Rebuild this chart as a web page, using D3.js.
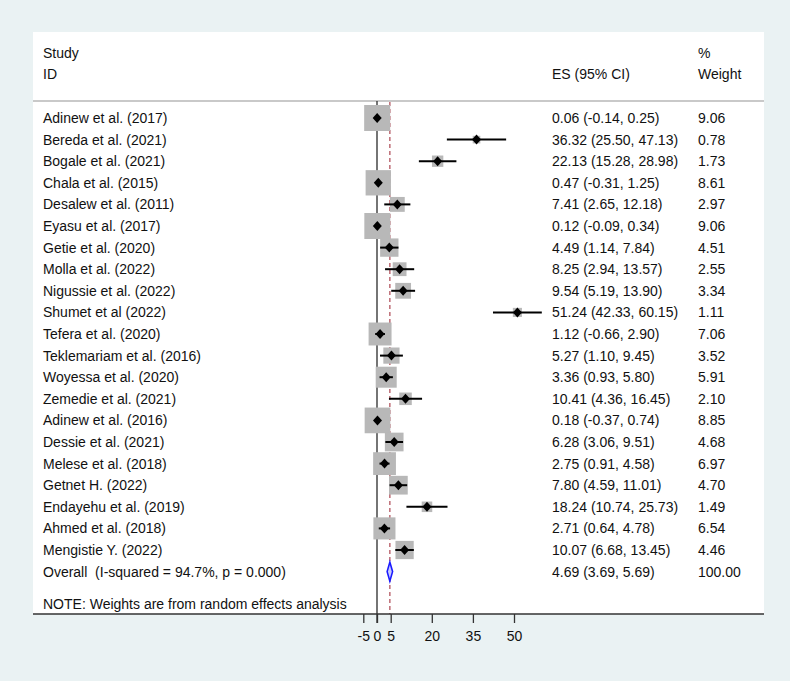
<!DOCTYPE html>
<html>
<head>
<meta charset="utf-8">
<script src="https://cdn.jsdelivr.net/npm/d3@7"></script>
<style>
  html, body { margin: 0; padding: 0; background: #eaf2f3; }
  svg { display: block; }
  text { font-family: "Liberation Sans", Arial, sans-serif; font-size: 14px; fill: #111; white-space: pre; }
</style>
</head>
<body>
<svg id="chart" width="790" height="681"></svg>
<script>
// ---- Data ----
const studies = [
  "Adinew et al. (2017)", "Bereda et al. (2021)", "Bogale et al. (2021)", "Chala et al. (2015)",
  "Desalew et al. (2011)", "Eyasu et al. (2017)", "Getie et al. (2020)", "Molla et al. (2022)",
  "Nigussie et al. (2022)", "Shumet et al (2022)", "Tefera et al. (2020)", "Teklemariam et al. (2016)",
  "Woyessa et al. (2020)", "Zemedie et al. (2021)", "Adinew et al. (2016)", "Dessie et al. (2021)",
  "Melese et al. (2018)", "Getnet H. (2022)", "Endayehu et al. (2019)", "Ahmed et al. (2018)",
  "Mengistie Y. (2022)"
];
const es     = [0.06, 36.32, 22.13, 0.47, 7.41, 0.12, 4.49, 8.25, 9.54, 51.24, 1.12, 5.27, 3.36, 10.41, 0.18, 6.28, 2.75, 7.80, 18.24, 2.71, 10.07];
const lower  = [-0.14, 25.50, 15.28, -0.31, 2.65, -0.09, 1.14, 2.94, 5.19, 42.33, -0.66, 1.10, 0.93, 4.36, -0.37, 3.06, 0.91, 4.59, 10.74, 0.64, 6.68];
const upper  = [0.25, 47.13, 28.98, 1.25, 12.18, 0.34, 7.84, 13.57, 13.90, 60.15, 2.90, 9.45, 5.80, 16.45, 0.74, 9.51, 4.58, 11.01, 25.73, 4.78, 13.45];
const weights = [9.06, 0.78, 1.73, 8.61, 2.97, 9.06, 4.51, 2.55, 3.34, 1.11, 7.06, 3.52, 5.91, 2.10, 8.85, 4.68, 6.97, 4.70, 1.49, 6.54, 4.46];
const overallLabel = "Overall  (I-squared = 94.7%, p = 0.000)";
const overall = { es: 4.69, lo: 3.69, hi: 5.69, w: "100.00" };
const tickValues = [-5, 0, 5, 20, 35, 50];
const noteText = "NOTE: Weights are from random effects analysis";

// ---- Layout ----
const svg = d3.select("#chart");
const panel = { x0: 33, x1: 764, y0: 32, y1: 614 };
const sepY = 101;
const colLabel = 43, colES = 552, colW = 698;

svg.append("rect").attr("x", 0).attr("y", 0).attr("width", 790).attr("height", 681).attr("fill", "#eaf2f3");
svg.append("rect").attr("x", panel.x0).attr("y", panel.y0)
  .attr("width", panel.x1 - panel.x0).attr("height", panel.y1 - panel.y0).attr("fill", "#ffffff");

const x = d3.scaleLinear().domain([0, 50]).range([377, 514]);
const rows = studies.map((s, i) => i).concat(["overall"]);
const y = d3.scalePoint().domain(rows).range([118, 571.6]);
const side = d3.scaleSqrt().domain([0, 9.06]).range([0, 26]);

// header
const hdr = svg.append("g");
hdr.append("text").attr("x", colLabel).attr("y", 53).attr("dy", "0.35em").text("Study");
hdr.append("text").attr("x", colLabel).attr("y", 74).attr("dy", "0.35em").text("ID");
hdr.append("text").attr("x", colES).attr("y", 74).attr("dy", "0.35em").text("ES (95% CI)");
hdr.append("text").attr("x", colW).attr("y", 53).attr("dy", "0.35em").text("%");
hdr.append("text").attr("x", colW).attr("y", 74).attr("dy", "0.35em").text("Weight");
svg.append("line").attr("x1", panel.x0).attr("x2", panel.x1).attr("y1", sepY).attr("y2", sepY)
  .attr("stroke", "#c9c9c9").attr("stroke-width", 2);

// reference lines
svg.append("line").attr("x1", x(0)).attr("x2", x(0)).attr("y1", sepY).attr("y2", panel.y1 + 9)
  .attr("stroke", "#2a2a2a").attr("stroke-width", 1.3);
svg.append("line").attr("x1", x(overall.es)).attr("x2", x(overall.es)).attr("y1", sepY + 1).attr("y2", panel.y1)
  .attr("stroke", "#b8606a").attr("stroke-width", 1.4).attr("stroke-dasharray", "4,3");

// study rows
const data = studies.map((s, i) => ({ i, s, es: es[i], lo: lower[i], hi: upper[i], w: weights[i] }));
const g = svg.append("g");
g.selectAll("rect.box").data(data).join("rect").attr("class", "box")
  .attr("x", d => x(d.es) - side(d.w) / 2).attr("y", d => y(d.i) - side(d.w) / 2)
  .attr("width", d => side(d.w)).attr("height", d => side(d.w))
  .attr("fill", "#b8b8b8");
g.selectAll("line.ci").data(data).join("line").attr("class", "ci")
  .attr("x1", d => x(d.lo)).attr("x2", d => x(d.hi))
  .attr("y1", d => y(d.i)).attr("y2", d => y(d.i))
  .attr("stroke", "#000").attr("stroke-width", 2);
g.selectAll("path.pt").data(data).join("path").attr("class", "pt")
  .attr("d", d => {
    const cx = x(d.es), cy = y(d.i);
    return `M${cx},${cy - 5}L${cx + 4.5},${cy}L${cx},${cy + 5}L${cx - 4.5},${cy}Z`;
  })
  .attr("fill", "#000");

g.selectAll("text.lab").data(data).join("text").attr("class", "lab")
  .attr("x", colLabel).attr("y", d => y(d.i)).attr("dy", "0.35em").text(d => d.s);
g.selectAll("text.es").data(data).join("text").attr("class", "es")
  .attr("x", colES).attr("y", d => y(d.i)).attr("dy", "0.35em")
  .text(d => `${d.es.toFixed(2)} (${d.lo.toFixed(2)}, ${d.hi.toFixed(2)})`);
g.selectAll("text.wt").data(data).join("text").attr("class", "wt")
  .attr("x", colW).attr("y", d => y(d.i)).attr("dy", "0.35em").text(d => d.w.toFixed(2));

// overall row
const oy = y("overall");
svg.append("path")
  .attr("d", `M${x(overall.lo)},${oy}L${x(overall.es)},${oy - 9.5}L${x(overall.hi)},${oy}L${x(overall.es)},${oy + 9.5}Z`)
  .attr("fill", "#c8ccff").attr("stroke", "#1a1aff").attr("stroke-width", 1.6);
svg.append("text").attr("x", colLabel).attr("y", oy).attr("dy", "0.35em").text(overallLabel);
svg.append("text").attr("x", colES).attr("y", oy).attr("dy", "0.35em")
  .text(`${overall.es.toFixed(2)} (${overall.lo.toFixed(2)}, ${overall.hi.toFixed(2)})`);
svg.append("text").attr("x", colW).attr("y", oy).attr("dy", "0.35em").text(overall.w);

// note
svg.append("text").attr("x", colLabel).attr("y", 604).attr("dy", "0.35em").text(noteText);

// axis
svg.append("line").attr("x1", panel.x0).attr("x2", panel.x1).attr("y1", panel.y1).attr("y2", panel.y1)
  .attr("stroke", "#333").attr("stroke-width", 1.6);
const axis = d3.axisBottom(x).tickValues(tickValues).tickSize(9).tickSizeOuter(0).tickFormat(d => String(d));
const ag = svg.append("g").attr("transform", `translate(0,${panel.y1})`).call(axis);
ag.select(".domain").remove();
ag.selectAll(".tick line").attr("stroke", "#333").attr("stroke-width", 1.3);
ag.selectAll(".tick text").attr("dy", 0).attr("y", 27)
  .style("font-family", "'Liberation Sans', Arial, sans-serif").style("font-size", "14px").attr("fill", "#111");
</script>
</body>
</html>
